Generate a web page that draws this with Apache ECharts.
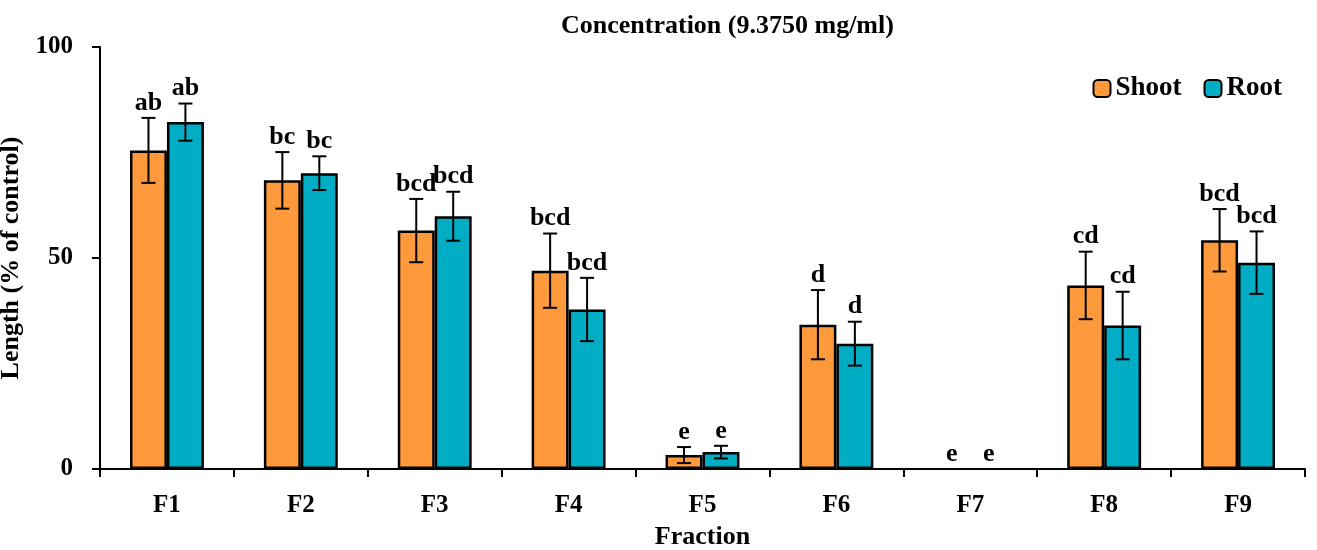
<!DOCTYPE html>
<html><head><meta charset="utf-8">
<script src="https://cdn.jsdelivr.net/npm/echarts@6/dist/echarts.min.js"></script>
<style>html,body{margin:0;padding:0;background:#fff}#c{width:1317px;height:550px}</style>
</head><body><div id="c"></div>
<script>
const categories = ['F1','F2','F3','F4','F5','F6','F7','F8','F9'];
const shootValues = [75.5, 68.4, 56.5, 47.0, 3.3, 34.2, 0, 43.5, 54.2];
const shootErrors = [7.7, 6.7, 7.5, 8.8, 1.9, 8.2, 0, 8.0, 7.4];
const rootValues = [82.2, 70.1, 59.9, 37.8, 4.0, 29.7, 0, 34.0, 48.9];
const rootErrors = [4.4, 4.0, 5.8, 7.5, 1.5, 5.2, 0, 8.0, 7.4];
const shootLetters = ['ab','bc','bcd','bcd','e','d','e','cd','bcd'];
const rootLetters = ['ab','bc','bcd','bcd','e','d','e','cd','bcd'];
const yTicks = [0, 50, 100];

const FONT = '"Liberation Serif", "DejaVu Serif", serif';
const BAR_FRAC = 0.276;

function errSeries(name, vals, errs, letters, side) {
  return {
    type: 'custom', name: name + ' err', z: 10, silent: true,
    data: vals.map((v, i) => [i, v, errs[i]]),
    renderItem: function (params, api) {
      const i = api.value(0), v = api.value(1), e = api.value(2);
      const letter = letters[i];
      const band = api.size([1, 0])[0];
      const off = side * band * BAR_FRAC / 2;
      const c = api.coord([i, v]);
      const x = c[0] + off;
      const top = api.coord([i, v + e])[1];
      const bot = api.coord([i, Math.max(v - e, 0)])[1];
      const cap = 7;
      const st = { stroke: '#000', lineWidth: 2 };
      const children = [];
      if (e > 0) {
        children.push({ type: 'line', shape: { x1: x, y1: top, x2: x, y2: bot }, style: st });
        children.push({ type: 'line', shape: { x1: x - cap, y1: top, x2: x + cap, y2: top }, style: st });
        children.push({ type: 'line', shape: { x1: x - cap, y1: bot, x2: x + cap, y2: bot }, style: st });
      }
      children.push({ type: 'text', style: { x: x, y: top - 2, text: letter, textAlign: 'center', textVerticalAlign: 'bottom',
        font: 'bold 26px ' + FONT, fill: '#000' } });
      return { type: 'group', children: children };
    }
  };
}

const chart = echarts.init(document.getElementById('c'));
chart.setOption({
  animation: false,
  backgroundColor: '#fff',
  title: { text: 'Concentration (9.3750 mg/ml)', left: 556, top: 8,
    textStyle: { fontFamily: FONT, fontWeight: 'bold', fontSize: 26, color: '#000' } },
  legend: { right: 30, top: 70, itemWidth: 17, itemHeight: 17, itemGap: 22,
    data: ['Shoot', 'Root'],
    textStyle: { fontFamily: FONT, fontWeight: 'bold', fontSize: 27, color: '#000' } },
  grid: { left: 100, right: 12, top: 47, bottom: 81, containLabel: false, outerBoundsMode: 'none' },
  xAxis: {
    type: 'category', data: categories,
    name: 'Fraction', nameLocation: 'middle', nameGap: 55,
    nameTextStyle: { fontFamily: FONT, fontWeight: 'bold', fontSize: 26, color: '#000' },
    axisLine: { lineStyle: { color: '#000', width: 2 } },
    axisTick: { show: true, inside: false, length: 8, lineStyle: { color: '#000', width: 2 } },
    axisLabel: { margin: 24, fontFamily: FONT, fontWeight: 'bold', fontSize: 25, color: '#000' },
    splitLine: { show: false }
  },
  yAxis: {
    type: 'value', min: yTicks[0], max: yTicks[2], interval: 50,
    name: 'Length (% of control)', nameLocation: 'middle', nameGap: 76, nameRotate: 90,
    nameTextStyle: { fontFamily: FONT, fontWeight: 'bold', fontSize: 26, color: '#000' },
    axisLine: { show: true, lineStyle: { color: '#000', width: 2 } },
    axisTick: { show: true, inside: false, length: 8, lineStyle: { color: '#000', width: 2 } },
    axisLabel: { margin: 27, fontFamily: FONT, fontWeight: 'bold', fontSize: 25, color: '#000' },
    splitLine: { show: false }
  },
  series: [
    { name: 'Shoot', type: 'bar', data: shootValues.map(v => v === 0 ? '-' : v), barWidth: (BAR_FRAC * 100) + '%', barGap: '0%',
      itemStyle: { color: '#FF9A3C', borderColor: '#000', borderWidth: 2.5 } },
    { name: 'Root', type: 'bar', data: rootValues.map(v => v === 0 ? '-' : v), barWidth: (BAR_FRAC * 100) + '%', barGap: '0%',
      itemStyle: { color: '#00ADC4', borderColor: '#000', borderWidth: 2.5 } },
    errSeries('Shoot', shootValues, shootErrors, shootLetters, -1),
    errSeries('Root', rootValues, rootErrors, rootLetters, 1)
  ]
});
</script></body></html>
